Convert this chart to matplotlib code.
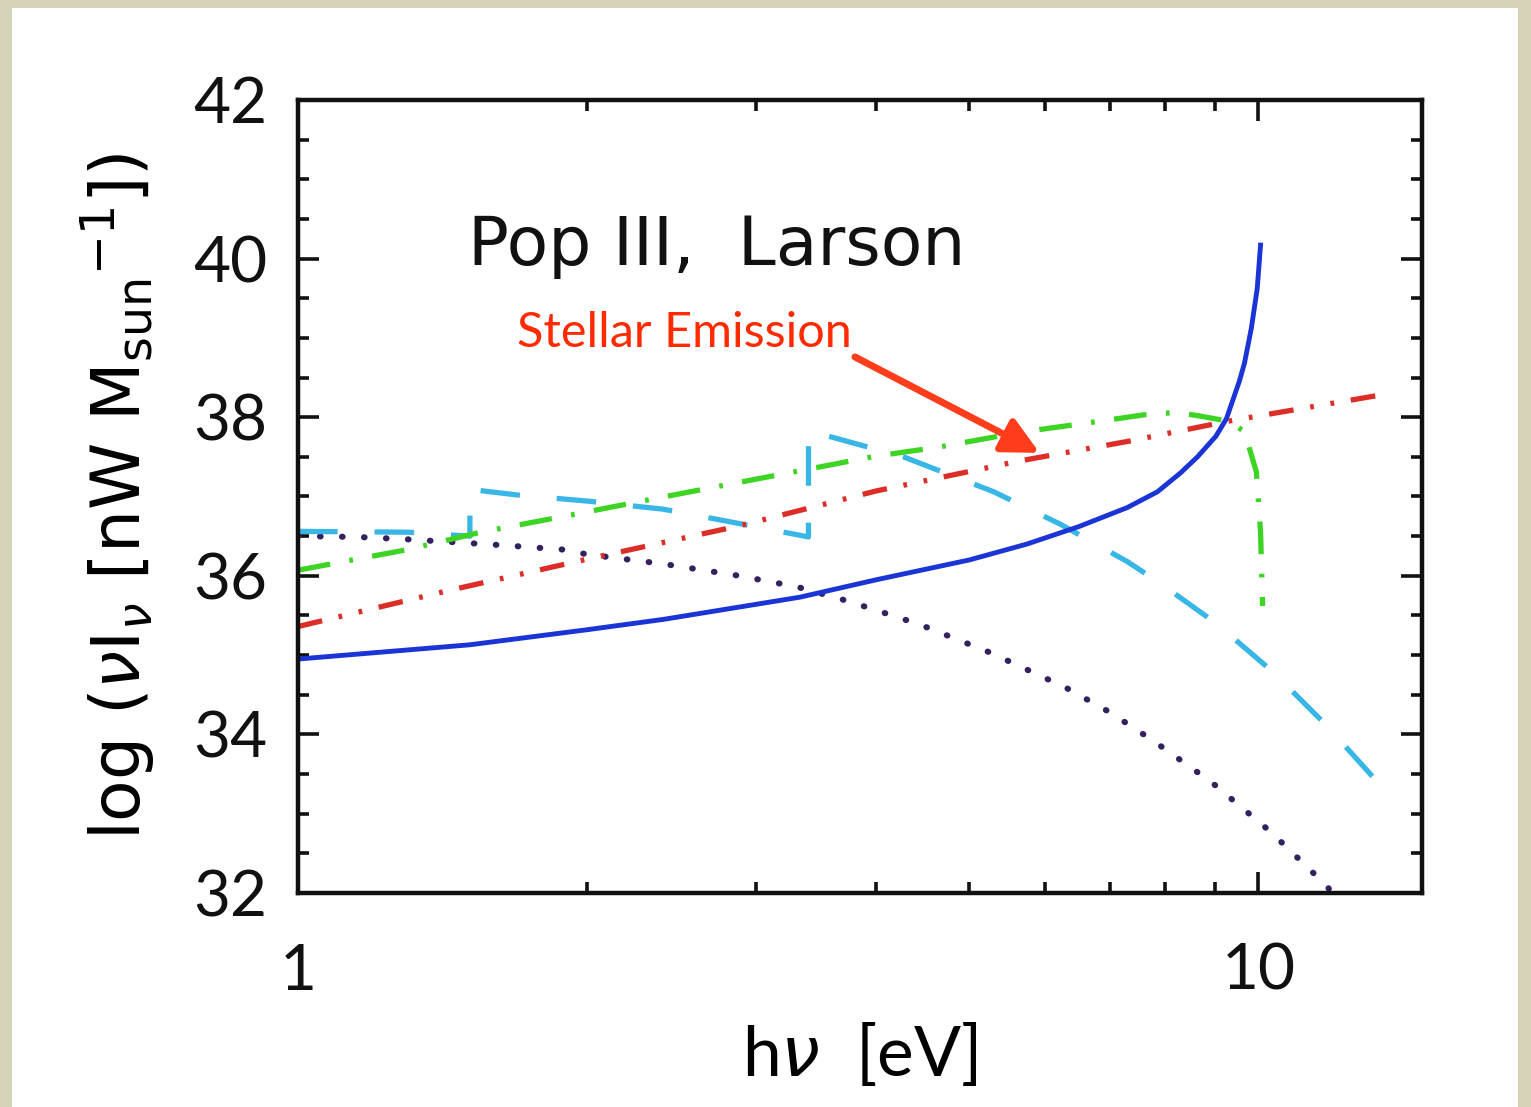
import matplotlib.pyplot as plt
from matplotlib.patches import Rectangle
from matplotlib.ticker import FixedLocator, MultipleLocator

# =====================================
# Data (E in eV, log nu I_nu)
# =====================================
blue_e = [1.0, 1.51, 2.0, 2.4, 3.33, 4.0, 5.0, 5.74, 6.5, 7.3, 7.85, 8.3, 8.64, 9.03, 9.26,
          9.55, 9.67, 9.83, 9.97, 10.05]
blue_v = [34.95, 35.13, 35.32, 35.45, 35.73, 35.95, 36.2, 36.4, 36.62, 36.86, 37.06, 37.3,
          37.5, 37.76, 37.98, 38.45, 38.68, 39.12, 39.62, 40.17]

red_e = [1.0, 1.43, 2.0, 2.88, 4.0, 5.65, 7.35, 9.3, 13.4]
red_v = [35.36, 35.81, 36.21, 36.63, 37.07, 37.45, 37.70, 37.95, 38.28]

green_e = [1.0, 1.15, 1.3, 1.55, 1.93, 2.3, 2.8, 3.45, 4.0, 4.63, 5.65, 6.84, 7.6, 8.2,
           8.64, 9.3, 9.67, 9.95, 10.05, 10.1]
green_v = [36.07, 36.21, 36.33, 36.55, 36.77, 36.95, 37.15, 37.36, 37.51, 37.62, 37.81, 37.95,
           38.03, 38.06, 38.02, 37.95, 37.82, 37.31, 36.55, 35.62]

cyan_e = [1.0, 1.30, 1.51, 1.51, 1.69, 2.01, 2.40, 2.82, 3.40, 3.40, 4.27, 5.30, 6.22, 7.30,
          7.87, 9.06, 10.37, 11.8, 13.3]
cyan_v = [36.56, 36.55, 36.50, 37.09, 37.02, 36.94, 36.84, 36.68, 36.49, 37.83, 37.50, 37.06,
          36.65, 36.18, 35.92, 35.39, 34.78, 34.10, 33.40]

purple_e = [1.0, 1.15, 1.30, 1.47, 1.66, 1.89, 2.0, 2.4, 2.88, 3.31, 3.74, 4.43, 5.26, 6.3,
            7.0, 7.77, 8.93, 10.3, 11.8, 12.2]
purple_v = [36.50, 36.49, 36.46, 36.42, 36.38, 36.33, 36.27, 36.15, 36.0, 35.86, 35.68, 35.39,
            35.03, 34.59, 34.28, 33.92, 33.40, 32.77, 32.08, 31.8]

x_major = [1, 10]
x_minor = [2, 3, 4, 5, 6, 7, 8, 9]

# =====================================
# Figure
# =====================================
plt.rcParams['font.family'] = ['Lato', 'DejaVu Sans']
plt.rcParams['mathtext.fontset'] = 'dejavusans'

fig = plt.figure(figsize=(15.31, 11.07), dpi=100, facecolor='#d6d3b8')
fig.patches.append(Rectangle((12 / 1531, 0), 1506 / 1531, 1099 / 1107,
                             transform=fig.transFigure, facecolor='white',
                             edgecolor='none', zorder=-10))
ax = fig.add_axes([0.19464, 0.19332, 0.73416, 0.71635])
ax.set_facecolor('none')

ax.plot(purple_e, purple_v, color='#35205e', lw=4.4,
        linestyle=(0, (0.1, 3.5)), dash_capstyle='round')
ax.plot(cyan_e, cyan_v, color='#38b6e6', lw=3.8, linestyle=(0, (7.5, 7)))
ax.plot(green_e, green_v, color='#3ed424', lw=3.8, linestyle=(0, (6.2, 3.7, 0.7, 3.7)))
ax.plot(red_e, red_v, color='#dc2e26', lw=3.8, linestyle=(0, (4.7, 3.2, 0.7, 3.2, 0.7, 3.2)))
ax.plot(blue_e, blue_v, color='#1a34d6', lw=3.5)

ax.set_xscale('log')
ax.set_xlim(1, 14.8)
ax.set_ylim(32, 42)
ax.xaxis.set_major_locator(FixedLocator(x_major))
ax.xaxis.set_minor_locator(FixedLocator(x_minor))
ax.set_xticklabels(['1', '10'])
ax.xaxis.set_minor_formatter(plt.NullFormatter())
ax.yaxis.set_major_locator(MultipleLocator(2))
ax.yaxis.set_minor_locator(MultipleLocator(0.5))

ax.tick_params(which='both', direction='in', top=True, right=True, width=2.6, colors='#111111')
ax.tick_params(which='major', length=15, labelsize=46)
ax.tick_params(which='minor', length=8)
ax.tick_params(axis='x', pad=36)
ax.tick_params(axis='y', pad=22)
for s in ax.spines.values():
    s.set_linewidth(3.2)
    s.set_color('#111111')

ax.set_xlabel(r'h$\nu$  [eV]', fontsize=50, labelpad=14)
ax.set_ylabel(r'log ($\nu$I$_\nu$ [nW M$_{\rm sun}$$^{-1}$])', fontsize=49, labelpad=26,
              family='DejaVu Sans')

ax.text(0.151, 0.792, 'Pop III,  Larson', transform=ax.transAxes, fontsize=49,
        va='baseline', color='#111111', family='DejaVu Sans')
ax.text(0.195, 0.6885, 'Stellar Emission', transform=ax.transAxes, fontsize=35,
        va='baseline', color='#ff2a00')
ax.annotate('', xy=(0.6598, 0.555), xytext=(0.4955, 0.676),
            xycoords='axes fraction', textcoords='axes fraction',
            arrowprops=dict(arrowstyle='-|>', color='#ff3d1a', lw=5,
                            mutation_scale=55, shrinkA=0, shrinkB=0))

fig.savefig('out.png', dpi=100, facecolor=fig.get_facecolor())
